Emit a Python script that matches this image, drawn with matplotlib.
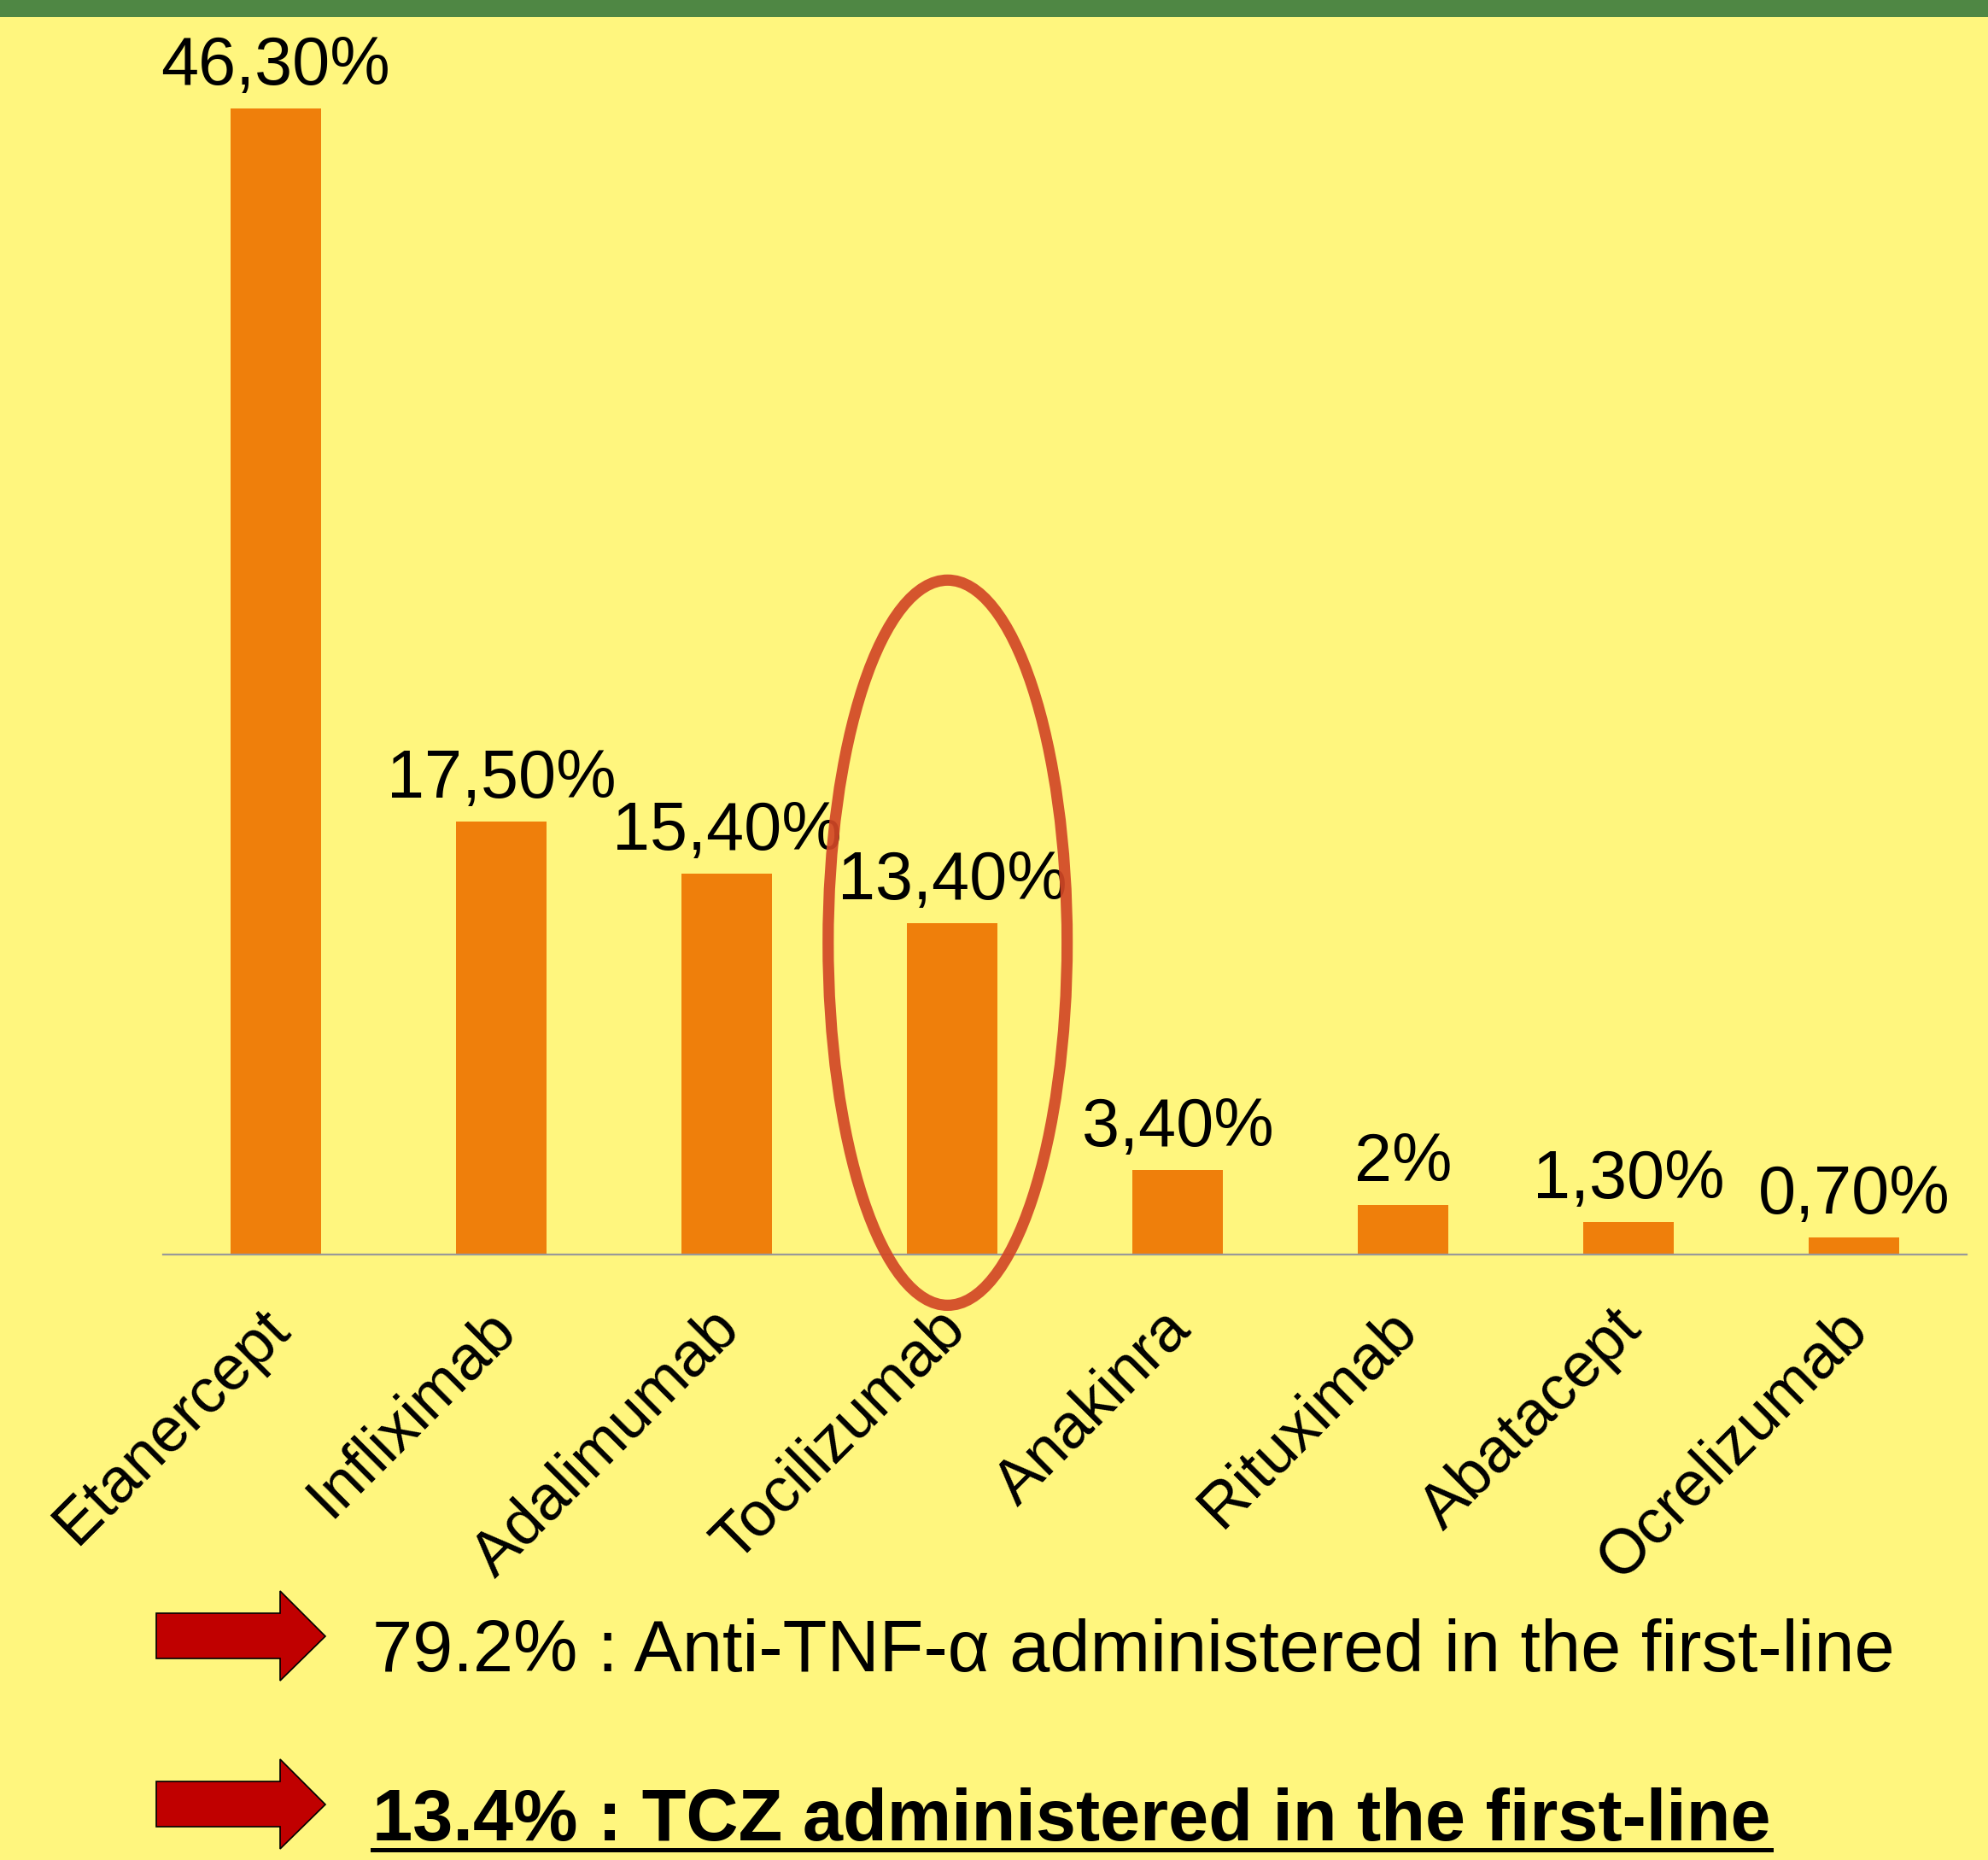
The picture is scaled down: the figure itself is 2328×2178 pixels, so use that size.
"""
First-line biologic use: share of patients per drug, with TCZ highlighted.
"""
import numpy as np
import matplotlib
matplotlib.use("Agg")
import matplotlib.pyplot as plt
from matplotlib.patches import Ellipse, Polygon, Rectangle
from matplotlib.lines import Line2D

plt.rcParams["font.family"] = ["Liberation Sans", "DejaVu Sans"]

drugs = ["Etanercept", "Infliximab", "Adalimumab", "Tocilizumab",
         "Anakinra", "Rituximab", "Abatacept", "Ocrelizumab"]
share = [46.3, 17.5, 15.4, 13.4, 3.4, 2.0, 1.3, 0.7]
share_labels = ["46,30%", "17,50%", "15,40%", "13,40%",
                "3,40%", "2%", "1,30%", "0,70%"]
notes = ["79.2% : Anti-TNF-α administered in the first-line",
         "13.4% : TCZ administered in the first-line"]

W, H = 2328, 2178
BG = "#FFF67E"
ORANGE = "#EF7F0B"

fig = plt.figure(figsize=(W / 100, H / 100), dpi=100)
fig.patch.set_facecolor(BG)


def fx(px):
    return px / W


def fy(py):
    return 1 - py / H


# green band on top
fig.add_artist(Rectangle((0, fy(20)), 1, 20 / H, transform=fig.transFigure,
                         facecolor="#4F8744", edgecolor="none"))

ax = fig.add_axes([fx(191), fy(1469), (2303 - 191) / W, (1469 - 20) / H])
ax.set_facecolor("none")
x = np.arange(len(drugs))
ax.bar(x, share, width=0.40, color=ORANGE, zorder=2)
ax.set_xlim(-0.5, 7.5)
ax.set_ylim(0, 50)
for s in ["top", "right", "left"]:
    ax.spines[s].set_visible(False)
ax.spines["bottom"].set_color("#999999")
ax.spines["bottom"].set_linewidth(1.6)
ax.set_yticks([])
ax.set_xticks([])

for xi, v, lab in zip(x, share, share_labels):
    ax.text(xi, v + 0.97, lab, ha="center", va="baseline", fontsize=57,
            color="black", zorder=3)

for xi, name in zip(x, drugs):
    ax.text(xi + 0.07, -3.1, name, rotation=45, rotation_mode="anchor",
            ha="right", va="baseline", fontsize=53, color="black",
            clip_on=False)

# highlight ellipse around Tocilizumab
ax.add_patch(Ellipse((2.98, 12.6), 1.06, 29.3, fill=False,
                     edgecolor="#D24726", linewidth=9.5, alpha=0.92,
                     clip_on=False, zorder=4))


def arrow(y_top):
    pts = [(183, y_top + 26), (328, y_top + 26), (328, y_top),
           (381, y_top + 53), (328, y_top + 105), (328, y_top + 79),
           (183, y_top + 79)]
    fig.add_artist(Polygon([(fx(a), fy(b)) for a, b in pts], closed=True,
                           transform=fig.transFigure, facecolor="#C00000",
                           edgecolor="black", linewidth=1.2))


arrow(1863)
arrow(2060)

fig.text(fx(436), fy(1957), notes[0], fontsize=61, va="baseline",
         ha="left", color="black")
t2 = fig.text(fx(436), fy(2155), notes[1], fontsize=61, va="baseline",
              ha="left", color="black", fontweight="bold")

fig.canvas.draw()
bb = t2.get_window_extent(fig.canvas.get_renderer())
fig.add_artist(Line2D([bb.x0 / W, bb.x1 / W], [fy(2166), fy(2166)],
                      transform=fig.transFigure, color="black", linewidth=3.6))

fig.savefig("out.png", dpi=100, facecolor=BG)
